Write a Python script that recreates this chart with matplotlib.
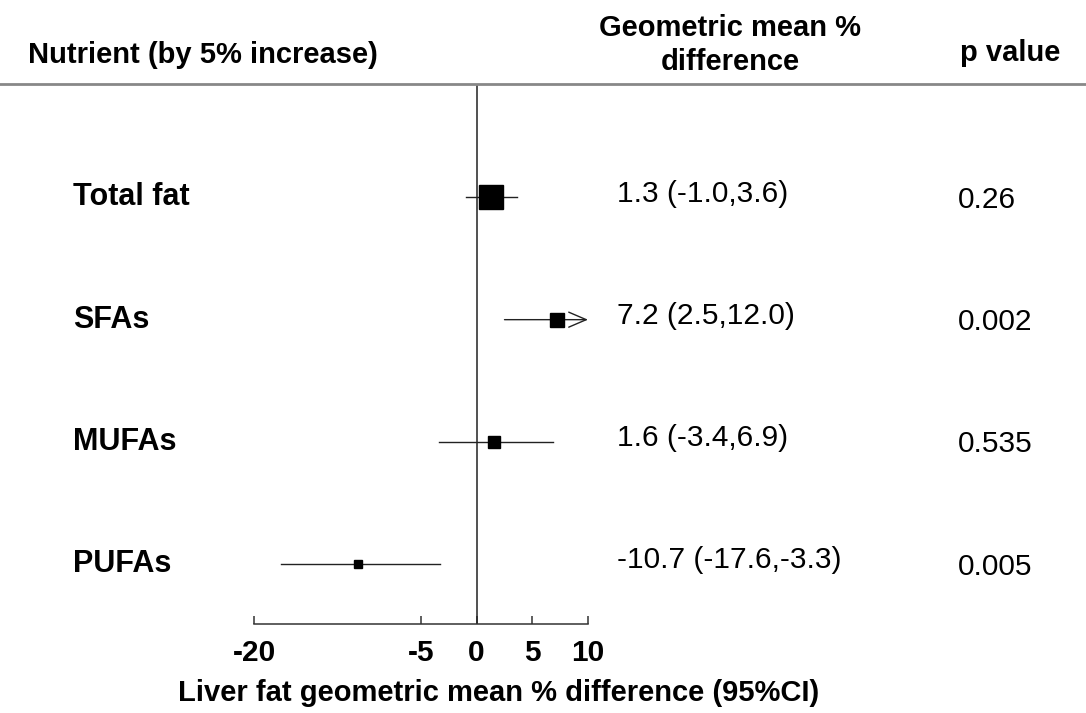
import matplotlib
matplotlib.use("Agg")
import matplotlib.pyplot as plt
from matplotlib import transforms
from matplotlib.lines import Line2D

plt.rcParams['font.family'] = ['Liberation Sans', 'DejaVu Sans']

# forest plot data
nutrients = ["Total fat", "SFAs", "MUFAs", "PUFAs"]
estimate = [1.3, 7.2, 1.6, -10.7]
ci_low = [-1.0, 2.5, -3.4, -17.6]
ci_high = [3.6, 12.0, 6.9, -3.3]
p_values = ["0.26", "0.002", "0.535", "0.005"]
xticks = [-20, -5, 0, 5, 10]
xmin, xmax = -20, 10

# box size (points) for each estimate
box_pt = [17.5, 9.5, 8.8, 6.0]

W, H = 1086, 713
fig = plt.figure(figsize=(W / 100, H / 100), dpi=100)
ax = fig.add_axes([254 / W, 1 - 624 / H, (588 - 254) / W, (624 - 85) / H])
ax.set_xlim(xmin, xmax)
ax.set_ylim(3.49, -0.92)

line_col = "#222222"
for i in range(len(nutrients)):
    hi = min(ci_high[i], xmax)
    if ci_high[i] > xmax:
        # CI runs past the axis: draw an open arrow at the edge
        ax.annotate("", xy=(hi, i), xytext=(ci_low[i], i),
                    arrowprops=dict(arrowstyle="->,head_length=0.7,head_width=0.3",
                                    color=line_col, lw=1.0,
                                    mutation_scale=18, shrinkA=0, shrinkB=0))
    else:
        ax.plot([ci_low[i], hi], [i, i], color=line_col, lw=1.0, clip_on=False)
    ax.plot(estimate[i], i, marker="s", ms=box_pt[i], color="black",
            mec="black", zorder=3, clip_on=False)

ax.axvline(0, color=line_col, lw=1.1)

for s in ["top", "right", "left"]:
    ax.spines[s].set_visible(False)
ax.spines["bottom"].set_color("#333333")
ax.spines["bottom"].set_linewidth(1.1)
ax.set_yticks([])
ax.set_xticks(xticks)
ax.set_xticklabels([str(t) for t in xticks], fontsize=21.5, fontweight="bold")
ax.tick_params(axis="x", direction="in", length=6, width=1.1, color="#333333", pad=11)
ax.set_xlabel("Liver fat geometric mean % difference (95%CI)", fontsize=21,
              fontweight="bold", labelpad=6)
ax.xaxis.set_label_coords(0.733, 1 - (693 - 85) / (624 - 85))
ax.xaxis.label.set_va("center")

# header
fig.text(28 / W, 1 - 55 / H, "Nutrient (by 5% increase)", fontsize=21,
         fontweight="bold", ha="left", va="center")
fig.text(730 / W, 1 - 45 / H, "Geometric mean %\ndifference", fontsize=21,
         fontweight="bold", ha="center", va="center", linespacing=1.25)
fig.text(1010 / W, 1 - 53 / H, "p value", fontsize=21, fontweight="bold",
         ha="center", va="center")
fig.add_artist(Line2D([0, 1], [1 - 84 / H, 1 - 84 / H], color="#888888", lw=2))

# row labels, estimates and p values
tr = transforms.blended_transform_factory(fig.transFigure, ax.transData)
for i in range(len(nutrients)):
    ax.text(73 / W, i, nutrients[i], transform=tr, fontsize=22, fontweight="bold",
            ha="left", va="center")
    ax.text(617 / W, i - 0.03, f"{estimate[i]} ({ci_low[i]},{ci_high[i]})",
            transform=tr, fontsize=21.5, ha="left", va="center")
    ax.text(958 / W, i + 0.02, p_values[i], transform=tr, fontsize=21.5,
            ha="left", va="center")

fig.savefig("out.png", dpi=100)
